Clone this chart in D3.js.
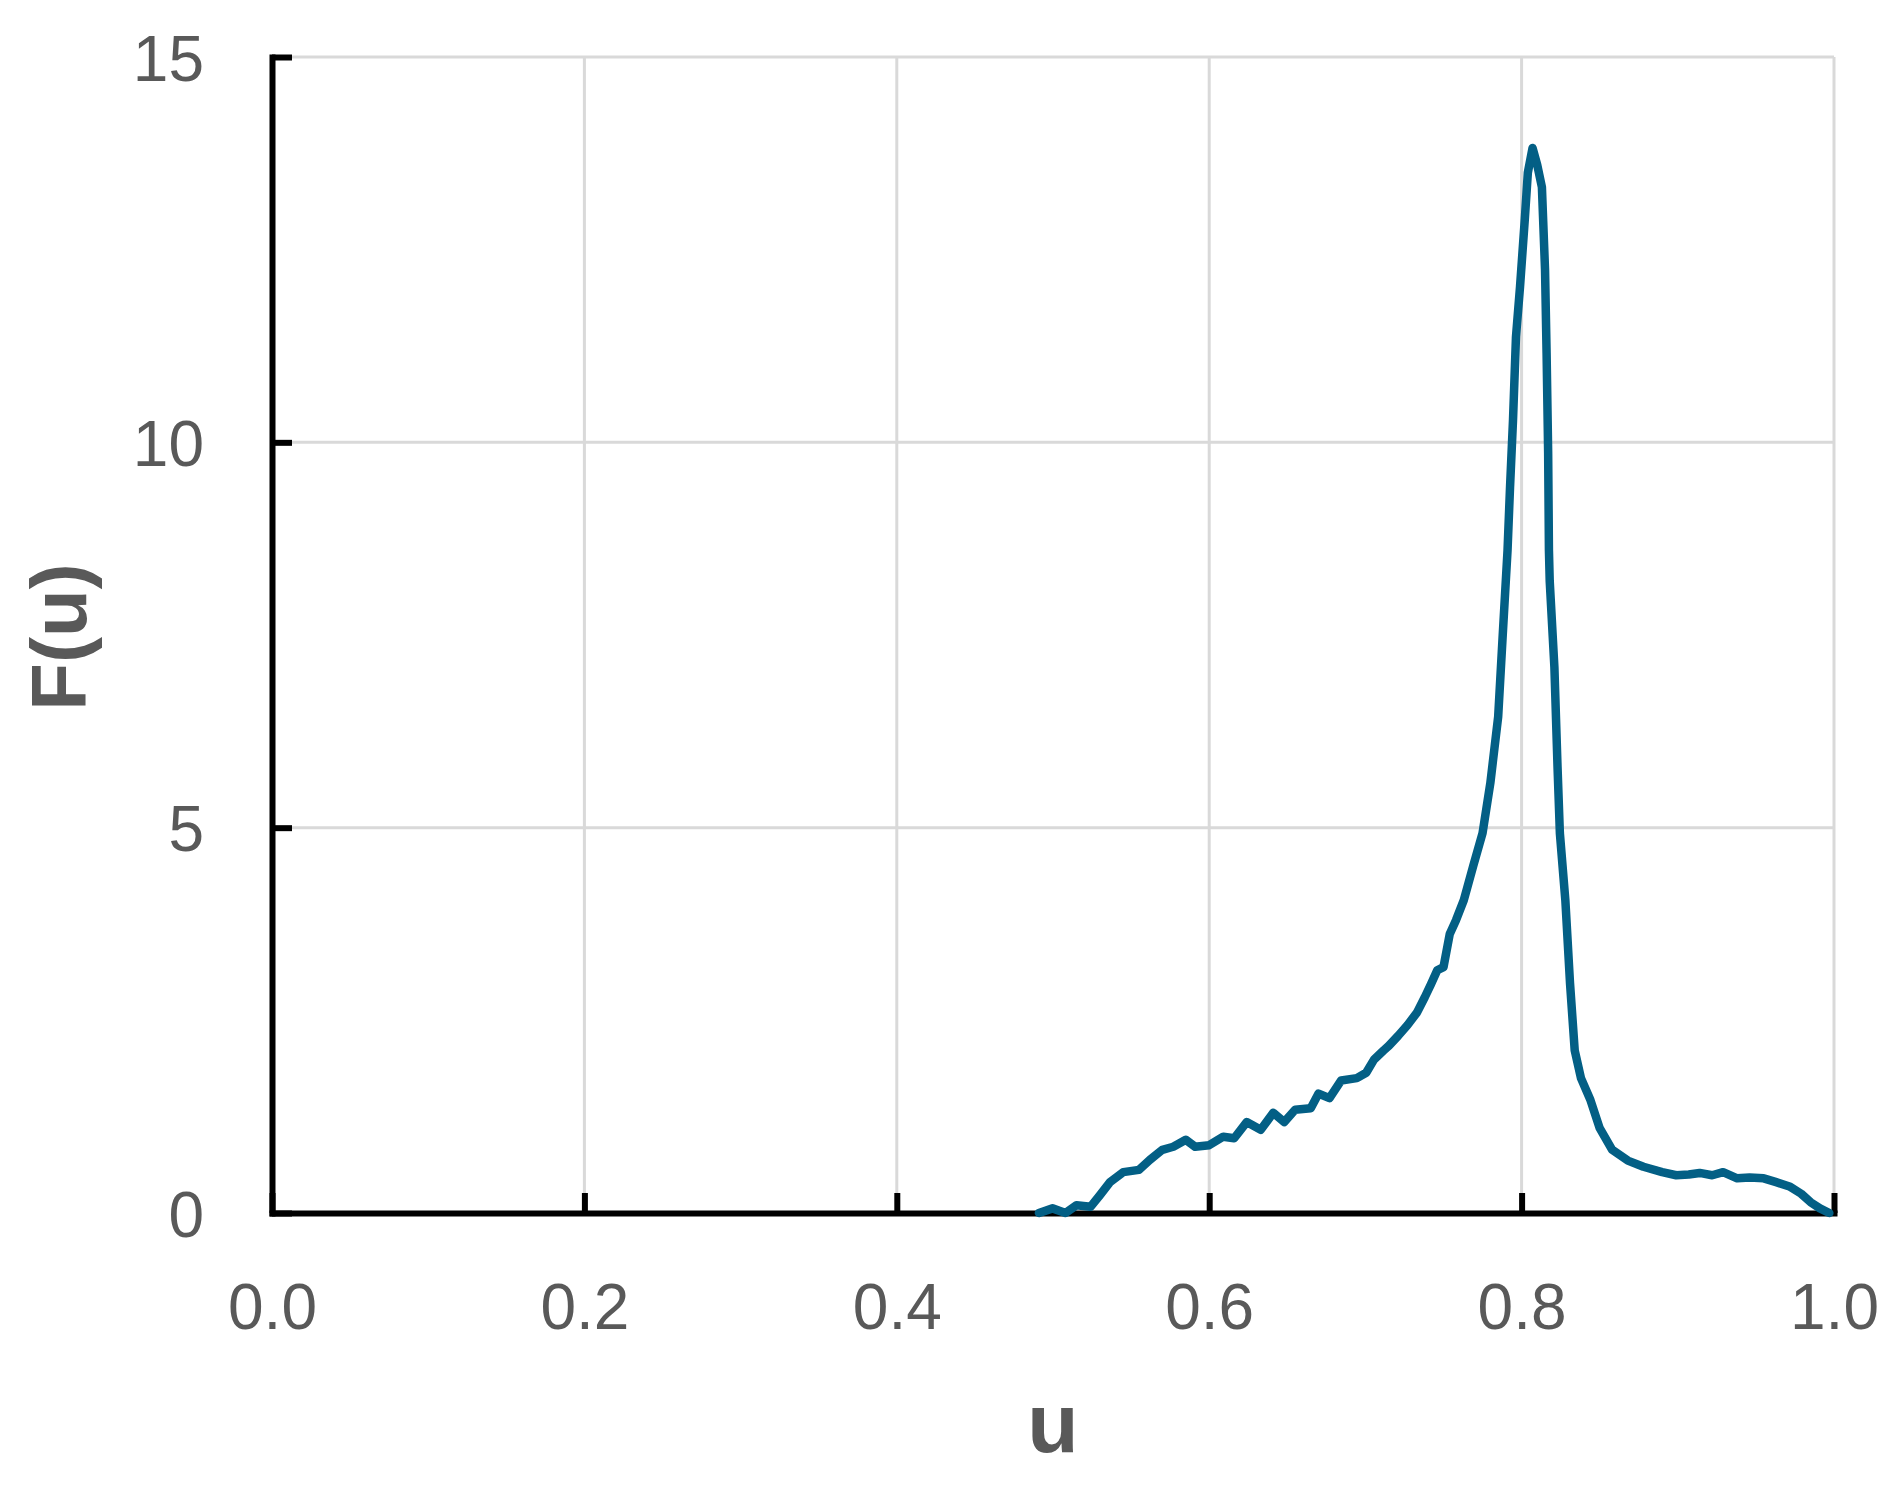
<!DOCTYPE html>
<html><head><meta charset="utf-8">
<script src="https://cdn.jsdelivr.net/npm/d3@7"></script>
<style>
body{margin:0;background:#fff;}
svg{display:block;}
</style>
</head><body>
<svg id="chart" width="1902" height="1499"></svg>
<script>
// ---- data ----
const uValues = [0.491,0.4997,0.508,0.515,0.524,0.530,0.5365,0.545,0.555,0.562,0.570,0.577,0.585,0.591,0.600,0.609,0.616,0.624,0.633,0.641,0.648,0.655,0.665,0.670,0.677,0.6845,0.6945,0.7005,0.7055,0.7117,0.715,0.721,0.727,0.733,0.738,0.742,0.746,0.750,0.754,0.758,0.763,0.769,0.775,0.780,0.785,0.788,0.791,0.7926,0.7945,0.7964,0.799,0.802,0.804,0.807,0.810,0.813,0.815,0.816,0.817,0.8175,0.818,0.821,0.823,0.8245,0.828,0.831,0.834,0.838,0.844,0.850,0.858,0.868,0.878,0.890,0.899,0.907,0.914,0.922,0.929,0.938,0.946,0.955,0.963,0.972,0.979,0.985,0.991,0.997];
const fValues = [0,0.06,0,0.10,0.08,0.23,0.40,0.53,0.56,0.69,0.82,0.86,0.95,0.86,0.88,0.99,0.97,1.18,1.08,1.30,1.18,1.34,1.36,1.55,1.49,1.72,1.75,1.82,1.99,2.11,2.17,2.30,2.44,2.60,2.80,2.97,3.15,3.19,3.62,3.80,4.06,4.50,4.93,5.58,6.44,7.53,8.60,9.42,10.29,11.37,12.02,12.88,13.50,13.82,13.60,13.31,12.24,11.16,9.86,8.60,8.20,7.08,5.79,4.93,4.06,2.98,2.11,1.75,1.47,1.10,0.82,0.68,0.60,0.53,0.49,0.50,0.52,0.49,0.53,0.45,0.46,0.45,0.40,0.34,0.25,0.14,0.06,0];
const xTicks = [0,0.2,0.4,0.6,0.8,1.0];
const xTickLabels = ["0.0","0.2","0.4","0.6","0.8","1.0"];
const yTicks = [0,5,10,15];
const yTickLabels = ["0","5","10","15"];
const xTitle = "u";
const yTitle = "F(u)";

// ---- layout ----
const margin = {left:272, top:57, right:68, bottom:286};
const W = 1902, H = 1499;
const iw = W - margin.left - margin.right;
const ih = H - margin.top - margin.bottom;
const font = "'Liberation Sans', Arial, sans-serif";
const textColor = "#595959";

const svg = d3.select("#chart");
const g = svg.append("g").attr("transform", `translate(${margin.left},${margin.top})`);

const x = d3.scaleLinear().domain([0,1]).range([0, iw]);
const y = d3.scaleLinear().domain([0,15]).range([ih, 0]);

// gridlines
g.append("g").selectAll("line").data(xTicks.filter(d=>d>0)).join("line")
  .attr("x1", d=>x(d)).attr("x2", d=>x(d)).attr("y1", 0).attr("y2", ih)
  .attr("stroke", "#d9d9d9").attr("stroke-width", 3);
g.append("g").selectAll("line").data(yTicks.filter(d=>d>0)).join("line")
  .attr("x1", 0).attr("x2", iw).attr("y1", d=>y(d)).attr("y2", d=>y(d))
  .attr("stroke", "#d9d9d9").attr("stroke-width", 3);

// axes
const xAxis = d3.axisBottom(x).tickValues(xTicks)
  .tickFormat((d,i)=>xTickLabels[i]).tickSizeInner(-20).tickSizeOuter(0).tickPadding(70);
const yAxis = d3.axisLeft(y).tickValues(yTicks)
  .tickFormat((d,i)=>yTickLabels[i]).tickSizeInner(-20).tickSizeOuter(0).tickPadding(68);

const gx = g.append("g").attr("transform", `translate(0,${ih})`).call(xAxis);
const gy = g.append("g").call(yAxis);
[gx, gy].forEach(a => {
  a.select(".domain").attr("stroke", "#000").attr("stroke-width", 6).attr("stroke-linecap","square");
  a.selectAll(".tick line").attr("stroke", "#000").attr("stroke-width", 6);
  a.selectAll(".tick text").attr("fill", textColor).attr("font-family", font).attr("font-size", 64);
});
gx.selectAll(".tick text").attr("dy", "0.72em");
gy.selectAll(".tick text").attr("dy", "0.36em");

// curve
const pts = uValues.map((u,i)=>[u, fValues[i]]);
g.append("path").datum(pts)
  .attr("fill","none").attr("stroke","#035f85").attr("stroke-width",8.5)
  .attr("stroke-linejoin","round").attr("stroke-linecap","round")
  .attr("d", d3.line().x(d=>x(d[0])).y(d=>y(d[1])).curve(d3.curveLinear));

// titles
svg.append("text").attr("x", 1053).attr("y", 1452).attr("text-anchor","middle")
  .attr("font-family", font).attr("font-weight","bold").attr("font-size", 84)
  .attr("fill", textColor).text(xTitle);
svg.append("text").attr("transform","translate(86,637) rotate(-90)").attr("text-anchor","middle")
  .attr("font-family", font).attr("font-weight","bold").attr("font-size", 78)
  .attr("fill", textColor).text(yTitle);
</script>
</body></html>
